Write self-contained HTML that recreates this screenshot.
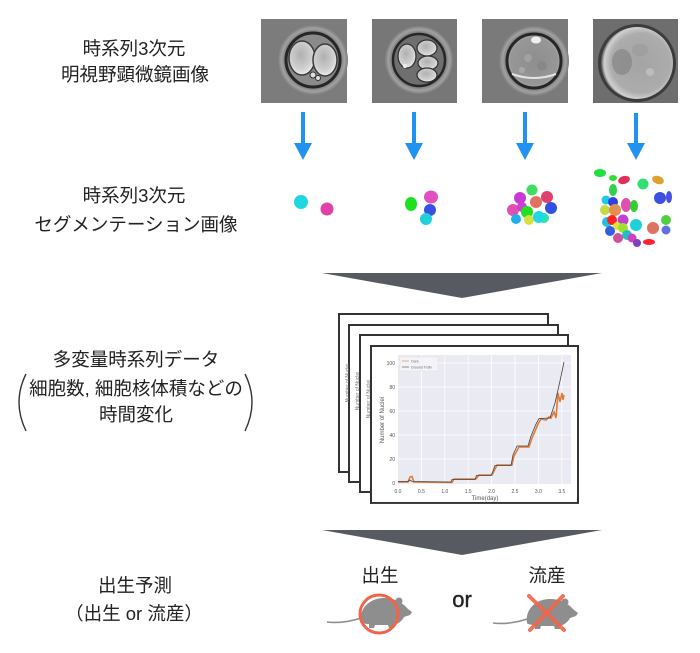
<!DOCTYPE html>
<html><head><meta charset="utf-8">
<style>
html,body{margin:0;padding:0;background:#fff;}
svg{display:block;}
text{font-family:"Liberation Sans","Noto Sans CJK JP",sans-serif;}
</style></head>
<body>
<svg width="700" height="653" viewBox="0 0 700 653" xmlns="http://www.w3.org/2000/svg">
<defs>
<radialGradient id="cellA" cx="45%" cy="40%" r="60%"><stop offset="0" stop-color="#b0b0b0"/><stop offset="0.7" stop-color="#cfcfcf"/><stop offset="1" stop-color="#ececec"/></radialGradient>
<radialGradient id="cellB" cx="50%" cy="50%" r="55%"><stop offset="0" stop-color="#8e8e8e"/><stop offset="0.8" stop-color="#979797"/><stop offset="1" stop-color="#c8c8c8"/></radialGradient>
<radialGradient id="cellC" cx="55%" cy="50%" r="55%"><stop offset="0" stop-color="#a4a4a4"/><stop offset="0.75" stop-color="#acacac"/><stop offset="0.92" stop-color="#d0d0d0"/><stop offset="1" stop-color="#555"/></radialGradient>
<radialGradient id="halo" cx="50%" cy="50%" r="50%"><stop offset="0.8" stop-color="#7d7d7d"/><stop offset="0.9" stop-color="#a2a2a2"/><stop offset="1" stop-color="#7d7d7d"/></radialGradient>
</defs>

<!-- Left labels -->
<g fill="#222" font-size="18.5" text-anchor="middle">
<text x="134" y="55">時系列3次元</text>
<text x="135" y="81">明視野顕微鏡画像</text>
<text x="134" y="202">時系列3次元</text>
<text x="136" y="231">セグメンテーション画像</text>
<text x="136" y="366">多変量時系列データ</text>
<text x="136" y="395">細胞数, 細胞核体積などの</text>
<text x="136" y="421">時間変化</text>
<text x="135" y="592">出生予測</text>
<text x="134" y="620">（出生 or 流産）</text>
</g>
<path d="M26,374 Q12,402 26,431" fill="none" stroke="#333" stroke-width="1.4"/>
<path d="M245,374 Q259,402 245,431" fill="none" stroke="#333" stroke-width="1.4"/>

<!-- Microscope images -->
<g>
<rect x="261" y="19" width="86" height="84" fill="#7c7c7c"/>
<circle cx="313" cy="60" r="35" fill="url(#halo)"/>
<circle cx="313" cy="60" r="27" fill="#8a8a8a" stroke="#262626" stroke-width="3"/>
<ellipse cx="302" cy="58" rx="13" ry="17" fill="url(#cellA)" stroke="#3a3a3a" stroke-width="1.5"/>
<ellipse cx="325" cy="60" rx="12" ry="16" fill="url(#cellA)" stroke="#3a3a3a" stroke-width="1.5"/>
<circle cx="313" cy="75" r="3" fill="#ddd" stroke="#333" stroke-width="1"/>
<circle cx="318" cy="78" r="2.5" fill="#ddd" stroke="#333" stroke-width="1"/>

<rect x="372" y="19" width="85" height="84" fill="#777"/>
<circle cx="419" cy="60" r="34" fill="url(#halo)"/>
<circle cx="419" cy="60" r="26" fill="#6f6f6f" stroke="#262626" stroke-width="2.5"/>
<ellipse cx="407" cy="56" rx="9" ry="12" fill="url(#cellA)" stroke="#333" stroke-width="1.3"/>
<ellipse cx="427" cy="48" rx="10" ry="8" fill="url(#cellA)" stroke="#333" stroke-width="1.3"/>
<ellipse cx="428" cy="63" rx="10" ry="7" fill="url(#cellA)" stroke="#333" stroke-width="1.3"/>
<ellipse cx="427" cy="75" rx="10" ry="7" fill="url(#cellA)" stroke="#333" stroke-width="1.3"/>
<circle cx="405" cy="66" r="2" fill="#eee"/>

<rect x="482" y="19" width="86" height="84" fill="#7a7a7a"/>
<circle cx="534" cy="61" r="35" fill="url(#halo)"/>
<circle cx="534" cy="61" r="27" fill="url(#cellB)" stroke="#262626" stroke-width="3"/>
<circle cx="528" cy="58" r="4" fill="#a8a8a8" opacity="0.7"/>
<circle cx="542" cy="66" r="5" fill="#858585" opacity="0.7"/>
<circle cx="522" cy="70" r="3" fill="#b0b0b0" opacity="0.7"/>
<ellipse cx="536" cy="40" rx="5" ry="3.5" fill="#f0f0f0"/>
<path d="M512,74 Q534,82 556,74" stroke="#e4e4e4" stroke-width="2" fill="none"/>

<rect x="593" y="19" width="85" height="84" fill="#6e6e6e"/>
<circle cx="637" cy="63" r="39" fill="#3c3c3c"/>
<circle cx="637" cy="63" r="36" fill="url(#cellC)"/>
<ellipse cx="622" cy="62" rx="10" ry="13" fill="#7e7e7e" opacity="0.6"/>
<ellipse cx="640" cy="50" rx="8" ry="6" fill="#999" opacity="0.6"/>
<circle cx="650" cy="72" r="4" fill="#c4c4c4" opacity="0.7"/>
</g>

<!-- Blue arrows -->
<g fill="#2192f0">
<rect x="301" y="112" width="4" height="32"/><polygon points="294,143 312,143 303,160"/>
<rect x="412" y="112" width="4" height="32"/><polygon points="405,143 423,143 414,160"/>
<rect x="523" y="112" width="4" height="32"/><polygon points="516,143 534,143 525,160"/>
<rect x="634" y="113" width="4" height="31"/><polygon points="627,143 645,143 636,160"/>
</g>

<!-- Segmentation blobs -->
<g>
<circle cx="301" cy="202" r="7" fill="#1ed8e0"/>
<circle cx="327" cy="209" r="6.5" fill="#e040a8"/>

<ellipse cx="411" cy="204" rx="6" ry="7" fill="#1ee01e"/>
<ellipse cx="431" cy="197" rx="7" ry="6.5" fill="#e050c0"/>
<circle cx="430" cy="210" r="6" fill="#3a50e0"/>
<circle cx="426" cy="219" r="6" fill="#20d0d8"/>

<circle cx="532" cy="190" r="5.5" fill="#40dc60"/>
<circle cx="520" cy="198" r="6" fill="#c83ad8"/>
<circle cx="547" cy="197" r="6" fill="#e04070"/>
<circle cx="536" cy="202" r="6" fill="#e07060"/>
<circle cx="513" cy="210" r="6" fill="#e050b0"/>
<circle cx="522" cy="207" r="5" fill="#d040d0"/>
<circle cx="551" cy="208" r="6" fill="#3050e0"/>
<circle cx="527" cy="212" r="6" fill="#20e020"/>
<circle cx="516" cy="219" r="5" fill="#20b0e8"/>
<circle cx="529" cy="220" r="5" fill="#d8e040"/>
<circle cx="544" cy="218" r="5" fill="#30e0b0"/>
<circle cx="539" cy="217" r="6" fill="#20d8e0"/>

<ellipse cx="600" cy="173" rx="6" ry="4" fill="#20e040"/>
<ellipse cx="613" cy="178" rx="4" ry="3" fill="#30e030"/>
<ellipse cx="624" cy="180" rx="6" ry="4" fill="#e03060" transform="rotate(-15 624 180)"/>
<circle cx="643" cy="184" r="5.5" fill="#30e070"/>
<ellipse cx="658" cy="180" rx="6" ry="4" fill="#e0a030" transform="rotate(20 658 180)"/>
<circle cx="660" cy="198" r="6" fill="#3a50e0"/>
<ellipse cx="669" cy="197" rx="3" ry="6" fill="#4a50e0"/>
<ellipse cx="613" cy="190" rx="4" ry="6" fill="#30d050"/>
<circle cx="606" cy="200" r="4.5" fill="#20c8e0"/>
<circle cx="613" cy="202" r="5" fill="#3040e0"/>
<circle cx="605" cy="210" r="5" fill="#c8d840"/>
<circle cx="615" cy="210" r="6" fill="#e09050"/>
<ellipse cx="626" cy="205" rx="5" ry="7" fill="#e050b0"/>
<ellipse cx="634" cy="206" rx="4" ry="6" fill="#30d030"/>
<circle cx="607" cy="222" r="5" fill="#20c0e0"/>
<circle cx="612" cy="220" r="5" fill="#ff2020"/>
<circle cx="623" cy="220" r="5.5" fill="#c040d0"/>
<circle cx="617" cy="226" r="4" fill="#e0e040"/>
<circle cx="623" cy="228" r="5" fill="#a0e030"/>
<circle cx="636" cy="225" r="6" fill="#20d0d8"/>
<circle cx="610" cy="231" r="5" fill="#3060e0"/>
<circle cx="627" cy="235" r="5" fill="#20c0c0"/>
<circle cx="618" cy="238" r="5" fill="#d050a0"/>
<circle cx="632" cy="238" r="4.5" fill="#d040c0"/>
<circle cx="637" cy="243" r="4" fill="#8040c0"/>
<ellipse cx="649" cy="242" rx="6" ry="3" fill="#ff2030"/>
<circle cx="653" cy="228" r="6" fill="#e07060"/>
<circle cx="666" cy="220" r="5" fill="#50d040"/>
<circle cx="666" cy="230" r="4.5" fill="#6070e0"/>
</g>

<!-- Chevrons -->
<polygon points="322,273 602,273 462,298" fill="#575b61"/>
<polygon points="322,530 602,530 462,555" fill="#575b61"/>

<!-- Chart sheets -->
<g stroke="#333" stroke-width="2" fill="#fff">
<rect x="339" y="314" width="209" height="158"/>
<rect x="349" y="325" width="209" height="157"/>
<rect x="360" y="335" width="208" height="157"/>
</g>
<g fill="#777" font-size="5" text-anchor="middle">
<text transform="translate(349,383) rotate(-90)">Number of Nuclei</text>
<text transform="translate(359,391) rotate(-90)">Number of Nuclei</text>
<text transform="translate(370,399) rotate(-90)">Number of Nuclei</text>
</g>
<rect x="371" y="346" width="207" height="157" fill="#fff" stroke="#333" stroke-width="2"/>
<line x1="371" y1="503.5" x2="579" y2="503.5" stroke="#444" stroke-width="1"/>
<rect x="398" y="355" width="173" height="129" fill="#eaeaf2"/>
<g stroke="#fff" stroke-width="0.8">
<line x1="398" y1="363" x2="571" y2="363"/>
<line x1="398" y1="387" x2="571" y2="387"/>
<line x1="398" y1="411" x2="571" y2="411"/>
<line x1="398" y1="435" x2="571" y2="435"/>
<line x1="398" y1="459" x2="571" y2="459"/>
<line x1="421.4" y1="355" x2="421.4" y2="484"/>
<line x1="444.8" y1="355" x2="444.8" y2="484"/>
<line x1="468.2" y1="355" x2="468.2" y2="484"/>
<line x1="491.6" y1="355" x2="491.6" y2="484"/>
<line x1="515" y1="355" x2="515" y2="484"/>
<line x1="538.4" y1="355" x2="538.4" y2="484"/>
<line x1="561.8" y1="355" x2="561.8" y2="484"/>
</g>
<g fill="#555" font-size="5" text-anchor="end">
<text x="395" y="365">100</text>
<text x="395" y="389">80</text>
<text x="395" y="413">60</text>
<text x="395" y="437">40</text>
<text x="395" y="461">20</text>
<text x="395" y="485">0</text>
</g>
<g fill="#555" font-size="5" text-anchor="middle">
<text x="398" y="493">0.0</text>
<text x="421.4" y="493">0.5</text>
<text x="444.8" y="493">1.0</text>
<text x="468.2" y="493">1.5</text>
<text x="491.6" y="493">2.0</text>
<text x="515" y="493">2.5</text>
<text x="538.4" y="493">3.0</text>
<text x="561.8" y="493">3.5</text>
<text x="485" y="500" font-size="6">Time(day)</text>
<text transform="translate(384,420) rotate(-90)" font-size="6">Number of Nuclei</text>
</g>
<rect x="400" y="357" width="38" height="14" fill="#f4f4f8" stroke="#ddd" stroke-width="0.4"/>
<line x1="402" y1="361" x2="409" y2="361" stroke="#e07b39" stroke-width="0.6"/>
<line x1="402" y1="367" x2="409" y2="367" stroke="#444" stroke-width="0.6"/>
<text x="411" y="362.5" font-size="3.5" fill="#666">Ours</text>
<text x="411" y="368.5" font-size="3.5" fill="#666">Ground Truth</text>
<polyline fill="none" stroke="#e07b39" stroke-width="1.6" points="398,482 408,482 410,477 412,476.5 414,482 452,482.5 454,479 476,479 479,475 492,475 494,471 497,465 512,465 514,456 519,447 529,447 532,438 538,424 541,419 546,420 549,417 551,418 552,416 554,412 556,418 558,393 560,402 562,393 563,400 564,395"/>
<polyline fill="none" stroke="#444" stroke-width="0.8" points="398,481.5 408,481.5 410,480 412,481.5 451,482 452,479.5 475,479.5 476.5,475.5 491,475.5 493,471 495,465.5 511,465.5 513,455 517,446 528,446 531,436 536,424 539,418.5 550,418 555,403 560,381 564,362"/>

<!-- Outcome section -->
<g fill="#222" font-size="18.5" text-anchor="middle">
<text x="380" y="582">出生</text>
<text x="547" y="582">流産</text>
</g>
<text x="462" y="607" font-size="22" fill="#222" text-anchor="middle" stroke="#222" stroke-width="0.4">or</text>

<g transform="translate(327,622)">
<path d="M0,0 Q18,2 37,-5" fill="none" stroke="#8e8e8e" stroke-width="1.6"/>
<path d="M34,0 C32,-13 42,-24 57,-24 C67,-24 73,-20 77,-17 L81,-13 L85,-10 L83,-7 L77,-5 C75,-1 71,2 67,3 L67,6 L62,6 L61,3 L48,3 L47,6 L42,6 L42,2 C38,2 34,1 34,0 Z" fill="#8e8e8e"/>
<circle cx="72" cy="-21" r="3.5" fill="#8e8e8e"/>
</g>
<circle cx="379" cy="614" r="19" fill="none" stroke="#f0654a" stroke-width="3"/>

<g transform="translate(493,623)">
<path d="M0,0 Q18,2 37,-5" fill="none" stroke="#8e8e8e" stroke-width="1.6"/>
<path d="M34,0 C32,-13 42,-24 57,-24 C67,-24 73,-20 77,-17 L81,-13 L85,-10 L83,-7 L77,-5 C75,-1 71,2 67,3 L67,6 L62,6 L61,3 L48,3 L47,6 L42,6 L42,2 C38,2 34,1 34,0 Z" fill="#8e8e8e"/>
<circle cx="72" cy="-21" r="3.5" fill="#8e8e8e"/>
</g>
<g stroke="#f0654a" stroke-width="4" stroke-linecap="round" opacity="0.9">
<line x1="529" y1="596" x2="564" y2="630"/>
<line x1="563" y1="596" x2="530" y2="630"/>
</g>
</svg>
</body></html>
